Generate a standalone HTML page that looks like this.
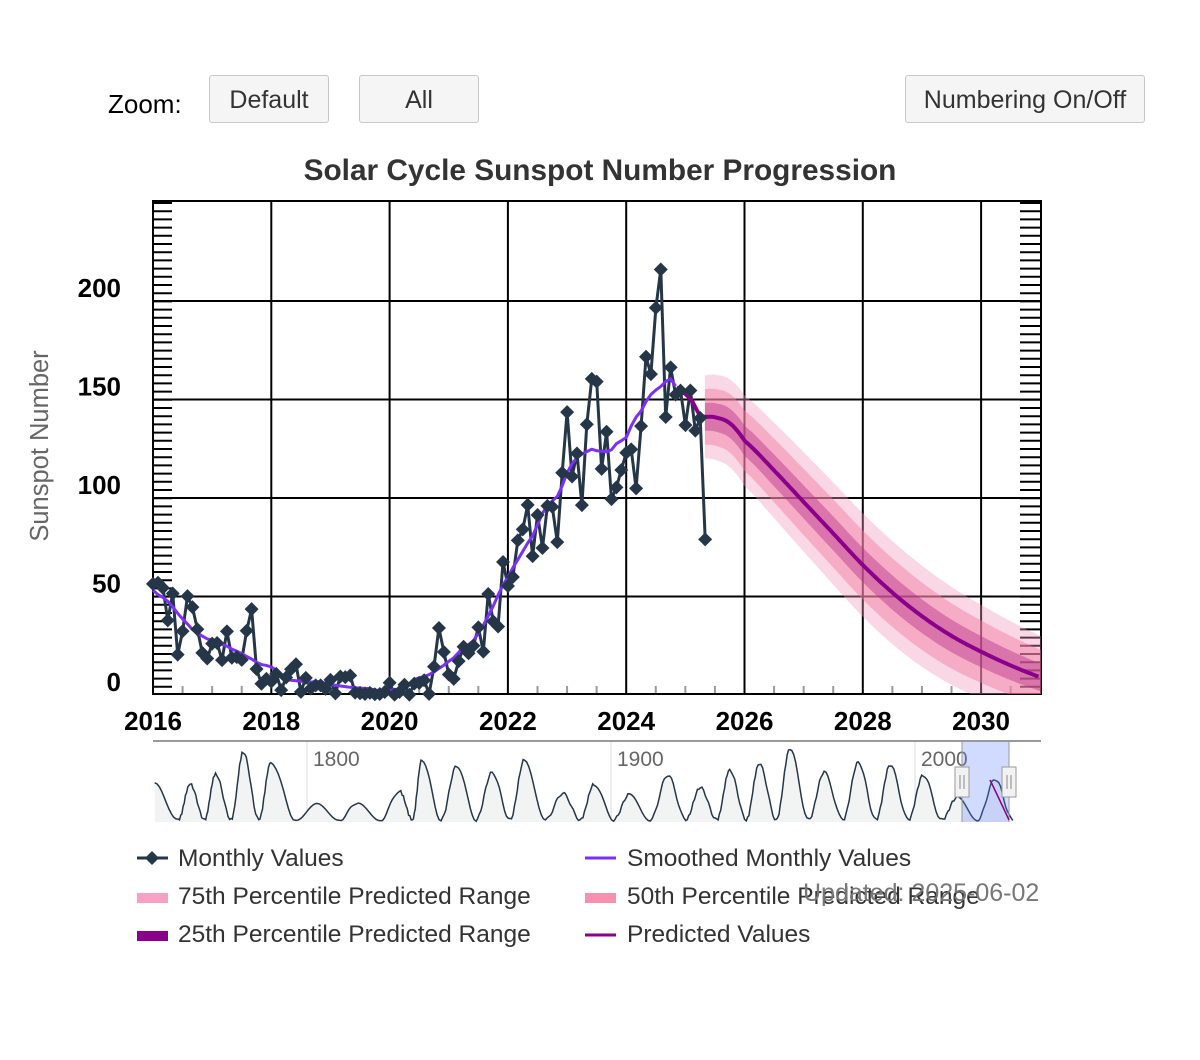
<!DOCTYPE html>
<html><head><meta charset="utf-8"><style>
body{margin:0;background:#fff;width:1200px;height:1060px;overflow:hidden;font-family:"Liberation Sans",sans-serif;}
.btn{position:absolute;top:75px;height:48px;background:#f5f5f5;border:1px solid #c8c8c8;border-radius:3px;font-size:25px;color:#333;text-align:center;line-height:48px;box-sizing:border-box;}
</style></head><body>
<div style="position:absolute;left:108px;top:89px;font-size:26px;color:#000">Zoom:</div>
<div class="btn" style="left:209px;width:120px">Default</div>
<div class="btn" style="left:359px;width:120px">All</div>
<div class="btn" style="left:905px;width:240px">Numbering On/Off</div>
<svg id="s" width="1200" height="1060" style="position:absolute;left:0;top:0" xmlns="http://www.w3.org/2000/svg">
<text x="600" y="180" text-anchor="middle" font-size="29.8" font-weight="bold" fill="#333">Solar Cycle Sunspot Number Progression</text>
<text transform="translate(48,446) rotate(-90)" text-anchor="middle" font-size="25.5" fill="#666">Sunspot Number</text>
<defs><clipPath id="pc"><rect x="153" y="201" width="888" height="493"/></clipPath></defs>
<g id="grid"></g>
<g id="bands" clip-path="url(#pc)"></g>
<g id="series"></g>
<g id="nav"></g>
<g font-size="24.5" fill="#333">
<text x="178" y="866">Monthly Values</text>
<text x="178" y="904">75th Percentile Predicted Range</text>
<text x="178" y="942">25th Percentile Predicted Range</text>
<text x="627" y="866">Smoothed Monthly Values</text>
<text x="627" y="904">50th Percentile Predicted Range</text>
<text x="627" y="942">Predicted Values</text>
<text x="803" y="901" fill="#777" font-size="25">Updated: 2025-06-02</text>
</g>
<g>
<line x1="137" y1="858" x2="168" y2="858" stroke="#253648" stroke-width="3"/>
<path d="M152 851 L159 858 L152 865 L145 858Z" fill="#253648"/>
<rect x="137" y="893" width="31" height="10" fill="#f5a0c4"/>
<rect x="137" y="931" width="31" height="10" fill="#8b008b"/>
<line x1="585" y1="858" x2="616" y2="858" stroke="#7b2ff7" stroke-width="3"/>
<rect x="585" y="893" width="31" height="10" fill="#f78fae"/>
<line x1="585" y1="935" x2="616" y2="935" stroke="#8b008b" stroke-width="3"/>
</g>
</svg>
<script>
const NS="http://www.w3.org/2000/svg";
function el(p,t,a,txt){const e=document.createElementNS(NS,t);for(const k in a)e.setAttribute(k,a[k]);if(txt!=null)e.textContent=txt;document.getElementById(p).appendChild(e);return e;}
const X=y=>153+(y-2016)*59.15, Y=v=>695-v*1.97;
for(let yr=2016;yr<=2030;yr+=2){el('grid','line',{x1:X(yr),x2:X(yr),y1:201,y2:694,stroke:'#000','stroke-width':2});
 el('grid','text',{x:X(yr),y:730,'text-anchor':'middle','font-size':26,'font-weight':'bold',fill:'#000'},yr);}
for(let v=0;v<=200;v+=50){ if(v>0)el('grid','line',{x1:153,x2:1041,y1:Y(v),y2:Y(v),stroke:'#000','stroke-width':2});
 el('grid','text',{x:121,y:Y(v)-4,'text-anchor':'end','font-size':26,'font-weight':'bold',fill:'#000'},v);}
for(let y=203;y<694;y+=8.2){el('grid','line',{x1:153,x2:172,y1:y,y2:y,stroke:'#000','stroke-width':2});el('grid','line',{x1:1020,x2:1041,y1:y,y2:y,stroke:'#000','stroke-width':2});}
for(let yr=2016.5;yr<2031;yr+=0.5){if(Math.abs(yr%2)<0.01)continue;el('grid','line',{x1:X(yr),x2:X(yr),y1:686,y2:694,stroke:'#999','stroke-width':2});}
el('grid','rect',{x:153,y:201,width:888,height:493,fill:'none',stroke:'#000','stroke-width':2});
const m=[56.4,57,54.4,37.9,51.5,20.5,32.4,50.2,44.6,33.4,21.4,18.5,26.1,26.4,17.7,32.3,18.9,19.2,17.8,32.6,43.6,13.2,5.7,8.2,6.8,10.7,2.5,8.9,13.1,15.6,1.6,8.7,3.3,4.9,4.9,3.1,7.7,0.8,9.4,9.1,9.9,1.2,0.9,0.5,1.1,0.4,0.5,1.5,6.2,0.2,1.5,5.2,0.2,5.8,6.1,7.5,0.6,14.4,34,21.8,10.4,8.2,17.2,24.5,21.2,25,34.3,22,51.3,37.4,34.8,67.5,55.3,59.9,78.5,84.1,96.5,70.5,91.4,74.6,96,95.5,77.6,112.8,143.6,110.9,122.6,96.4,137.4,160.5,159.1,114.8,133.6,99.4,105.4,114.2,123,124.7,104.9,136.5,171.7,162.9,196.6,216,141.1,166.3,152.5,154.5,137,154.6,134.2,140.6,79];
const mx=i=>153+i*4.93;
let sm=[],prev=[58,60,62,64,66,68];
for(let i=0;i<=106;i++){let s=0,n=0;for(let k=-6;k<=6;k++){let j=i+k;let v=j<0?prev[-j-1]:m[Math.min(j,m.length-1)];s+=(Math.abs(k)==6?0.5:1)*v;n+=(Math.abs(k)==6?0.5:1);}sm.push(s/n);}
const P=[[2024.6,156],[2024.85,156],[2025.1,150],[2025.25,142],[2025.5,141],[2025.75,138],[2026,129],[2026.5,114],[2027,98],[2027.5,82],[2028,66],[2028.5,52],[2029,40],[2029.5,30],[2030,22],[2030.5,15],[2031,9],[2031.5,4]];
function pv(y){for(let i=1;i<P.length-2;i++){if(y<=P[i+1][0]){const t=(y-P[i][0])/(P[i+1][0]-P[i][0]);
 const p0=P[i-1][1],p1=P[i][1],p2=P[i+1][1],p3=P[i+2][1];
 return 0.5*((2*p1)+(-p0+p2)*t+(2*p0-5*p1+4*p2-p3)*t*t+(-p0+3*p1-3*p2+p3)*t*t*t);}}return P[P.length-2][1];}
function band(w,col){let up=[],dn=[];for(let y=2025.33;y<=2031.01;y+=0.04){const v=pv(y);const ww=w*(1+0.25*Math.sin((y-2025.3)/5.7*Math.PI));up.push(X(y).toFixed(1)+','+Y(v+ww).toFixed(1));dn.unshift(X(y).toFixed(1)+','+Y(Math.max(v-ww,-5)).toFixed(1));}
 el('bands','polygon',{points:up.concat(dn).join(' '),fill:col});}
band(21,'rgba(240,150,185,0.38)');band(14,'rgba(245,120,160,0.45)');band(7,'rgba(180,50,140,0.45)');
el('series','polyline',{points:m.map((v,i)=>mx(i).toFixed(1)+','+Y(v).toFixed(1)).join(' '),fill:'none',stroke:'#253648','stroke-width':3});
el('series','polyline',{points:sm.map((v,i)=>mx(i).toFixed(1)+','+Y(v).toFixed(1)).join(' '),fill:'none',stroke:'#7b2ff7','stroke-width':3});
let pp=[];for(let y=2024.85;y<=2031;y+=0.04)pp.push(X(y).toFixed(1)+','+Y(pv(y)).toFixed(1));
el('series','polyline',{points:pp.join(' '),fill:'none',stroke:'#8b008b','stroke-width':4});
m.forEach((v,i)=>{const x=mx(i),y=Y(v);el('series','path',{d:`M${x} ${y-7}L${x+7} ${y}L${x} ${y+7}L${x-7} ${y}Z`,fill:'#253648'});});
// navigator
el('nav','line',{x1:153,x2:1041,y1:741,y2:741,stroke:'#999','stroke-width':2});
[307,611,915].forEach((x,i)=>{el('nav','line',{x1:x,x2:x,y1:742,y2:822,stroke:'#ddd','stroke-width':1});el('nav','text',{x:x+6,y:766,'font-size':21,fill:'#666'},['1800','1900','2000'][i]);});
const pk=[[85,145],[128,115],[175,50],[222,80],[300,198],[370,198],[440,165],[478,72],[537,90],[597,110],[652,72],[717,172],[770,145],[830,175],[895,118],[950,155],[1000,103],[1050,85],[1102,40],[1160,110],[1218,80],[1272,88],[1328,118],[1385,185],[1450,130]];
let pts=[[25,145]];for(let i=0;i<pk.length;i++){const px=i==0?25:pk[i-1][0];const mnx=(px+pk[i][0])/2+(i==0?10:3);pts.push([mnx,250]);pts.push(pk[i]);}pts.push([1480,250]);
const sx=920/1560, sy=95/280;
let nl=[];for(let i=0;i<pts.length-1;i++){const [a,b]=[pts[i],pts[i+1]];for(let t=0;t<1;t+=0.1){const tt=(1-Math.cos(Math.PI*t))/2;const zx=a[0]+(b[0]-a[0])*t;const zy=a[1]+(b[1]-a[1])*tt+(Math.sin(zx*1.7)*4);nl.push([140+zx*sx,735+zy*sy]);}}
const nstr=nl.map(p=>p[0].toFixed(1)+','+p[1].toFixed(1)).join(' ');
el('nav','polygon',{points:'155,822 '+nstr+' 1012,822',fill:'#f2f4f4'});
el('nav','polyline',{points:nstr,fill:'none',stroke:'#253648','stroke-width':1.5});
el('nav','rect',{x:962,y:742,width:47,height:80,fill:'rgba(102,133,255,0.3)'});
el('nav','line',{x1:962,x2:962,y1:742,y2:822,stroke:'#999'});el('nav','line',{x1:1009,x2:1009,y1:742,y2:822,stroke:'#999'});
el('nav','path',{d:'M990 780 Q995 790 1009 820',fill:'none',stroke:'#8b008b','stroke-width':1.5});
[962,1009].forEach(x=>{el('nav','rect',{x:x-7,y:767,width:14,height:30,fill:'#f2f2f2',stroke:'#999'});el('nav','line',{x1:x-2,x2:x-2,y1:775,y2:789,stroke:'#888'});el('nav','line',{x1:x+2,x2:x+2,y1:775,y2:789,stroke:'#888'});});
</script>
</body></html>
